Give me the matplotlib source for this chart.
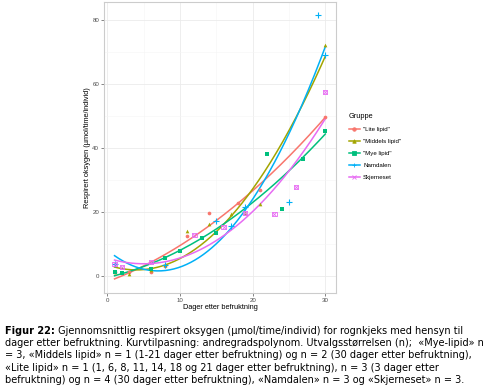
import numpy as np
import matplotlib.pyplot as plt
from matplotlib.lines import Line2D

# gjennomsnittlig respirert oksygen per gruppe, lest av figuren
groups = ['"Lite lipid"', '"Middels lipid"', '"Mye lipid"', 'Namdalen', 'Skjerneset']
colors = ['#F8766D', '#A3A500', '#00BF7D', '#00B0F6', '#E76BF3']
markers = ['o', '^', 's', '+', 'X']

lite_x = [1, 3, 6, 8, 11, 14, 18, 21, 30]
lite_y = [1.0, 1.2, 1.3, 3.0, 12.5, 19.7, 22.8, 26.8, 49.5]
middels_x = [1, 3, 6, 8, 11, 14, 17, 19, 21, 30]
middels_y = [1.0, 0.5, 1.8, 3.4, 13.8, 16.2, 19.2, 19.5, 22.3, 72.1]
mye_x = [1, 2, 6, 8, 10, 13, 15, 22, 24, 27, 30]
mye_y = [1.0, 0.8, 2.2, 5.4, 7.7, 11.9, 13.2, 38.0, 20.9, 36.5, 45.3]
namdalen_x = [1, 8, 15, 17, 19, 25, 29, 30]
namdalen_y = [3.7, 3.3, 17.1, 15.4, 21.6, 23.1, 81.5, 68.8]
skjerneset_x = [1, 2, 6, 12, 16, 19, 23, 26, 30]
skjerneset_y = [3.6, 2.8, 4.3, 12.8, 15.2, 19.6, 19.3, 27.7, 57.3]

xs = [lite_x, middels_x, mye_x, namdalen_x, skjerneset_x]
ys = [lite_y, middels_y, mye_y, namdalen_y, skjerneset_y]

plt.rcParams['font.family'] = ['Liberation Sans', 'DejaVu Sans']

fig = plt.figure(figsize=(4.86, 3.86), dpi=100)
ax = fig.add_axes([0.214, 0.241, 0.477, 0.754])

for x, y, c, m in zip(xs, ys, colors, markers):
    x = np.array(x, dtype=float)
    y = np.array(y, dtype=float)
    # andregradspolynom, som geom_smooth(method = "lm", formula = y ~ poly(x, 2))
    coef = np.polyfit(x, y, 2)
    xx = np.linspace(x.min(), x.max(), 200)
    ax.plot(xx, np.polyval(coef, xx), color=c, lw=1.1, zorder=3)
    if m == 'X':
        ax.scatter(x, y, s=9, marker='s', facecolors='none', edgecolors=c, linewidths=0.6, zorder=4)
        ax.scatter(x, y, s=9, marker='x', color=c, linewidths=0.6, zorder=4)
    elif m == '+':
        ax.scatter(x, y, s=14, marker='+', color=c, linewidths=0.8, zorder=4)
    else:
        ax.scatter(x, y, s=7, marker=m, color=c, linewidths=0, zorder=4)

ax.set_xlim(-0.45, 31.45)
ax.set_ylim(-5.4, 85.5)
ax.set_xticks([0, 10, 20, 30])
ax.set_yticks([0, 20, 40, 60, 80])
ax.set_xticks([5, 15, 25], minor=True)
ax.set_yticks([10, 30, 50, 70], minor=True)
ax.grid(True, which='major', color='#EBEBEB', lw=0.6)
ax.grid(True, which='minor', color='#F5F5F5', lw=0.4)
ax.set_axisbelow(True)
for s in ax.spines.values():
    s.set_color('#CCCCCC')
    s.set_linewidth(0.8)
ax.tick_params(which='major', length=2, width=0.5, color='#555555', labelsize=4.4, labelcolor='#4D4D4D', pad=1.5)
ax.tick_params(which='minor', length=0)
ax.set_xlabel('Dager etter befruktning', fontsize=5.3, labelpad=0.5)
ax.set_ylabel('Respirert oksygen (µmol/time/individ)', fontsize=5.3, labelpad=1)

handles = []
for c, m in zip(colors, markers):
    mk = 'x' if m == 'X' else m
    handles.append(Line2D([0], [0], color=c, lw=1.1, marker=mk, markersize=2.5, markeredgewidth=0.6))
leg = fig.legend(handles, groups, title='Gruppe', loc='upper left', bbox_to_anchor=(0.713, 0.713),
                 frameon=False, fontsize=4.4, title_fontsize=5.3, handlelength=1.8,
                 labelspacing=1.1, handletextpad=0.5, borderaxespad=0)
leg._legend_box.align = 'left'

# figurtekst
fs = 7.0
cap = 'DejaVu Sans'
lines = [
    'Figur 22: Gjennomsnittlig respirert oksygen (µmol/time/individ) for rognkjeks med hensyn til',
    'dager etter befruktning. Kurvtilpasning: andregradspolynom. Utvalgsstørrelsen (n);  «Mye-lipid» n',
    '= 3, «Middels lipid» n = 1 (1-21 dager etter befruktning) og n = 2 (30 dager etter befruktning),',
    '«Lite lipid» n = 1 (1, 6, 8, 11, 14, 18 og 21 dager etter befruktning), n = 3 (3 dager etter',
    'befruktning) og n = 4 (30 dager etter befruktning), «Namdalen» n = 3 og «Skjerneset» n = 3.',
]
W, H = fig.get_size_inches() * fig.dpi
x0 = 5.0
base0, step = 334.0, 12.2

bold = fig.text(x0 / W, 1 - base0 / H, 'Figur 22:', fontsize=fs, family=cap,
                fontweight='bold', va='baseline')
ax.annotate(' ' + lines[0][len('Figur 22: '):], xy=(1, 0), xycoords=bold,
            va='bottom', ha='left', fontsize=fs, family=cap, annotation_clip=False)
for i, line in enumerate(lines[1:], start=1):
    fig.text(x0 / W, 1 - (base0 + i * step) / H, line, fontsize=fs, family=cap, va='baseline')

fig.savefig('out.png', dpi=100)
